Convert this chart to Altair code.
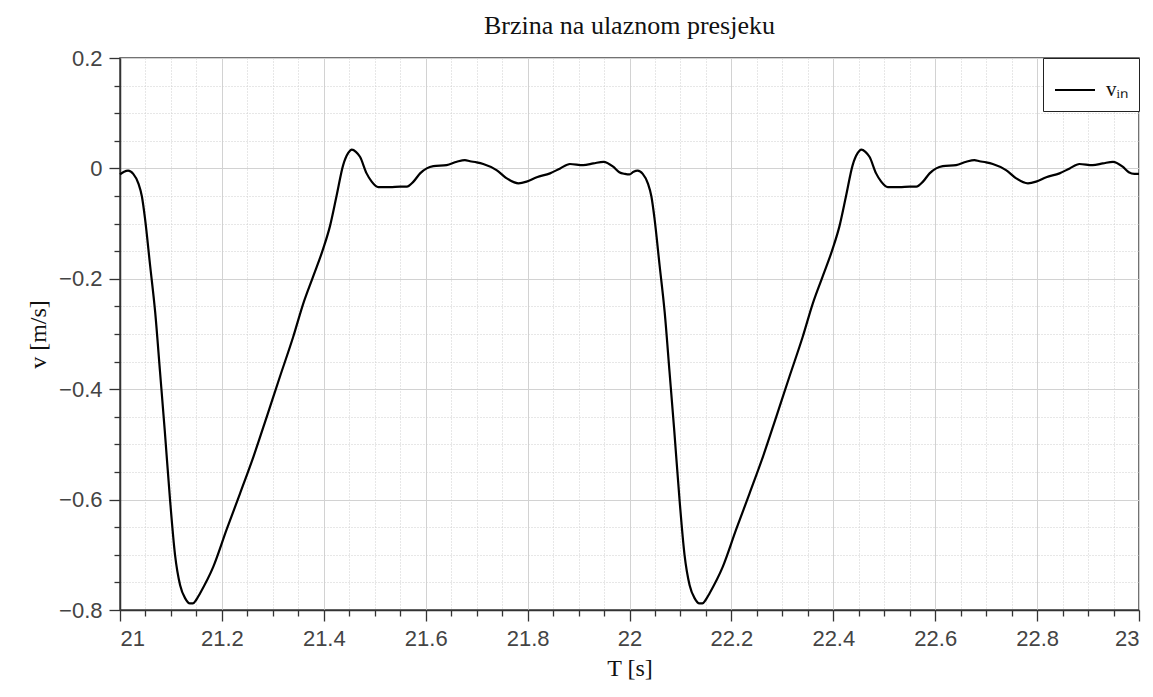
import altair as alt
import pandas as pd

# one period of the inlet velocity (phase in s, v in m/s)
phase = [0.000, 0.008, 0.016, 0.026, 0.036, 0.043, 0.049, 0.059, 0.069, 0.0785,
         0.088, 0.098, 0.108, 0.118, 0.128, 0.137, 0.143, 0.150, 0.157, 0.183,
         0.209, 0.2355, 0.262, 0.288, 0.314, 0.340, 0.360, 0.379, 0.399, 0.412,
         0.425, 0.438, 0.448, 0.455, 0.463, 0.471, 0.484, 0.494, 0.507, 0.530,
         0.550, 0.563, 0.576, 0.589, 0.602, 0.615, 0.641, 0.661, 0.677, 0.687,
         0.700, 0.713, 0.739, 0.759, 0.782, 0.798, 0.818, 0.844, 0.864, 0.883,
         0.909, 0.929, 0.949, 0.968, 0.980, 0.991]
vel = [-0.011, -0.006, -0.004, -0.010, -0.027, -0.051, -0.090, -0.175, -0.260, -0.368,
       -0.477, -0.598, -0.700, -0.755, -0.779, -0.788, -0.788, -0.781, -0.770, -0.722,
       -0.655, -0.589, -0.522, -0.450, -0.377, -0.305, -0.244, -0.196, -0.145, -0.105,
       -0.050, 0.006, 0.028, 0.034, 0.030, 0.021, -0.009, -0.024, -0.034, -0.034,
       -0.033, -0.033, -0.024, -0.009, 0.000, 0.004, 0.006, 0.012, 0.015, 0.013,
       0.011, 0.008, -0.003, -0.018, -0.027, -0.024, -0.016, -0.009, 0.000, 0.008,
       0.006, 0.009, 0.012, 0.003, -0.007, -0.010]
period_starts = [21.0, 22.0]
t_end = 23.0
v_end = -0.010

x_major = [21, 21.2, 21.4, 21.6, 21.8, 22, 22.2, 22.4, 22.6, 22.8, 23]
x_minor = [21.05, 21.1, 21.15, 21.25, 21.3, 21.35, 21.45, 21.5, 21.55, 21.65, 21.7, 21.75,
           21.85, 21.9, 21.95, 22.05, 22.1, 22.15, 22.25, 22.3, 22.35, 22.45, 22.5, 22.55,
           22.65, 22.7, 22.75, 22.85, 22.9, 22.95]
y_major = [-0.8, -0.6, -0.4, -0.2, 0, 0.2]
y_minor = [-0.75, -0.7, -0.65, -0.55, -0.5, -0.45, -0.35, -0.3, -0.25, -0.15, -0.1, -0.05,
           0.05, 0.1, 0.15]
series_name = "v\u1d62\u2099"

rows = []
for t0 in period_starts:
    for p, v in zip(phase, vel):
        rows.append({"t": t0 + p, "v": v, "s": series_name})
rows.append({"t": t_end, "v": v_end, "s": series_name})
df = pd.DataFrame(rows)

xs = alt.Scale(domain=[21, 23], nice=False, zero=False)
ys = alt.Scale(domain=[-0.8, 0.2], nice=False, zero=False)

lab = dict(labelFont="Liberation Sans", labelFontSize=22, labelColor="#444444")

minor = alt.Chart(df).mark_line(opacity=0).encode(
    x=alt.X("t:Q", scale=xs, axis=alt.Axis(
        values=x_minor, orient="bottom", grid=True, gridColor="#cfcfcf",
        gridDash=[1, 2], gridWidth=1, tickSize=6, tickColor="#333333",
        tickWidth=1.3, labels=False, domain=False, title=None)),
    y=alt.Y("v:Q", scale=ys, axis=alt.Axis(
        values=y_minor, orient="left", grid=True, gridColor="#cfcfcf",
        gridDash=[1, 2], gridWidth=1, tickSize=6, tickColor="#333333",
        tickWidth=1.3, labels=False, domain=False, title=None)),
)

major = alt.Chart(df).mark_line(strokeWidth=2.2, interpolate="monotone").encode(
    x=alt.X("t:Q", scale=xs, axis=alt.Axis(
        values=x_major, orient="bottom", format="~f", grid=True,
        gridColor="#d2d2d2", gridWidth=1, tickSize=11, tickColor="#333333",
        tickWidth=1.3, domainColor="#333333", domainWidth=1.5, labelPadding=7,
        title="T [s]", titleFont="Liberation Serif", titleFontSize=24,
        titleFontWeight="normal", titleColor="#111111", titlePadding=7, **lab)),
    y=alt.Y("v:Q", scale=ys, axis=alt.Axis(
        values=y_major, orient="left", format="~f", grid=True,
        gridColor="#d2d2d2", gridWidth=1, tickSize=11, tickColor="#333333",
        tickWidth=1.3, domainColor="#333333", domainWidth=1.5, labelPadding=7,
        title="v [m/s]", titleFont="Liberation Serif", titleFontSize=24,
        titleFontWeight="normal", titleColor="#111111", titlePadding=8, **lab)),
    color=alt.Color("s:N", scale=alt.Scale(range=["black"]), legend=alt.Legend(
        title=None, orient="top-right", offset=0, strokeColor="#222222",
        fillColor="white", padding=11, symbolType="stroke", symbolSize=1600,
        symbolStrokeWidth=2, labelFont="Liberation Serif", labelFontSize=21,
        labelColor="#111111", labelOffset=10, cornerRadius=0)),
)

chart = alt.layer(minor, major).resolve_axis(
    x="independent", y="independent"
).properties(
    width=1019, height=552,
    title=alt.TitleParams("Brzina na ulaznom presjeku", font="Liberation Serif",
                          fontSize=26, fontWeight="normal", color="#111111",
                          offset=8, anchor="middle"),
    autosize=alt.AutoSizeParams(type="none"),
    padding={"left": 112, "top": 50, "right": 6, "bottom": 70},
).configure_view(stroke="#444444", strokeWidth=1.5)

chart.save("out.html", embed_options={"renderer": "svg", "actions": False})
